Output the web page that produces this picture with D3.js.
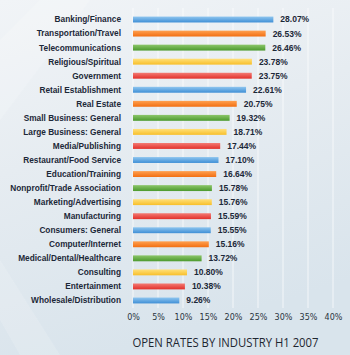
<!DOCTYPE html>
<html><head><meta charset="utf-8">
<script src="https://cdn.jsdelivr.net/npm/d3@7"></script>
<style>html,body{margin:0;padding:0;background:#e4ebf1;}svg{display:block;}</style>
</head><body>
<script>
const categories = ["Banking/Finance","Transportation/Travel","Telecommunications","Religious/Spiritual","Government","Retail Establishment","Real Estate","Small Business: General","Large Business: General","Media/Publishing","Restaurant/Food Service","Education/Training","Nonprofit/Trade Association","Marketing/Advertising","Manufacturing","Consumers: General","Computer/Internet","Medical/Dental/Healthcare","Consulting","Entertainment","Wholesale/Distribution"];
const values = [28.07,26.53,26.46,23.78,23.75,22.61,20.75,19.32,18.71,17.44,17.10,16.64,15.78,15.76,15.59,15.55,15.16,13.72,10.80,10.38,9.26];
const tickValues = [0,5,10,15,20,25,30,35,40];
const title = "OPEN RATES BY INDUSTRY H1 2007";
const palette = [["#8ec5ef","#3f8fd6"],["#ffa050","#f26f12"],["#8cc66a","#4c9a2e"],["#ffe07a","#f8bf2a"],["#f37b74","#e2302b"]];

const W=350,H=355;
const svg=d3.select("body").append("svg").attr("width",W).attr("height",H);
const defs=svg.append("defs");
const bg=defs.append("linearGradient").attr("id","bg").attr("x1",0).attr("y1",0).attr("x2",0.3).attr("y2",1);
bg.append("stop").attr("offset","0%").attr("stop-color","#f1f4f7");
bg.append("stop").attr("offset","45%").attr("stop-color","#e6ecf1");
bg.append("stop").attr("offset","100%").attr("stop-color","#d9e4ec");
palette.forEach((p,i)=>{
  const g=defs.append("linearGradient").attr("id","bar"+i).attr("x1",0).attr("y1",0).attr("x2",0).attr("y2",1);
  g.append("stop").attr("offset","0%").attr("stop-color",p[0]);
  g.append("stop").attr("offset","100%").attr("stop-color",p[1]);
});
svg.append("rect").attr("width",W).attr("height",H).attr("fill","url(#bg)");
svg.append("path").attr("d","M0,40 L40,0 L90,0 L0,120 Z").attr("fill","#ffffff").attr("opacity",0.18);
svg.append("path").attr("d","M0,260 L60,355 L20,355 L0,320 Z").attr("fill","#ffffff").attr("opacity",0.15);

const x=d3.scaleLinear().domain([0,40]).range([133,333]);
const y=d3.scaleBand().domain(categories).range([12.5,307.5]).paddingInner(0.58).paddingOuter(0.29);

svg.append("g").selectAll("line").data(tickValues).join("line")
  .attr("x1",d=>x(d)).attr("x2",d=>x(d)).attr("y1",8).attr("y2",308)
  .attr("stroke","#ffffff").attr("stroke-opacity",0.7).attr("stroke-width",1);

const rows=svg.append("g").selectAll("g").data(categories).join("g");
rows.append("rect")
  .attr("x",x(0)).attr("y",d=>y(d)).attr("height",y.bandwidth())
  .attr("width",(d,i)=>x(values[i])-x(0))
  .attr("fill",(d,i)=>`url(#bar${i%5})`);
rows.append("text")
  .attr("x",121).attr("y",d=>y(d)+y.bandwidth()/2).attr("dy","0.35em")
  .attr("text-anchor","end").attr("font-family","Liberation Sans, Arial, sans-serif")
  .attr("font-weight","bold").attr("font-size","8.3px").attr("fill","#1c2838")
  .text(d=>d);
rows.append("text")
  .attr("x",(d,i)=>x(values[i])+7).attr("y",d=>y(d)+y.bandwidth()/2).attr("dy","0.35em")
  .attr("font-family","Liberation Sans, Arial, sans-serif").attr("font-weight","bold")
  .attr("font-size","8.5px").attr("fill","#1c2838")
  .text((d,i)=>values[i].toFixed(2)+"%");

const ax=d3.axisBottom(x).tickValues(tickValues).tickFormat(d=>d+"%").tickSize(0).tickPadding(0);
const ag=svg.append("g").attr("transform","translate(0,314)").call(ax);
ag.select(".domain").remove();
ag.selectAll("text").attr("font-family","DejaVu Sans, sans-serif").attr("font-size","8px").attr("fill","#2a3440");

svg.append("text").attr("x",132.5).attr("y",346.5).attr("font-family","Open Sans, sans-serif")
  .attr("font-size","13px").attr("fill","#1e2630")
  .attr("textLength",186).attr("lengthAdjust","spacingAndGlyphs").text(title);
</script>
</body></html>
